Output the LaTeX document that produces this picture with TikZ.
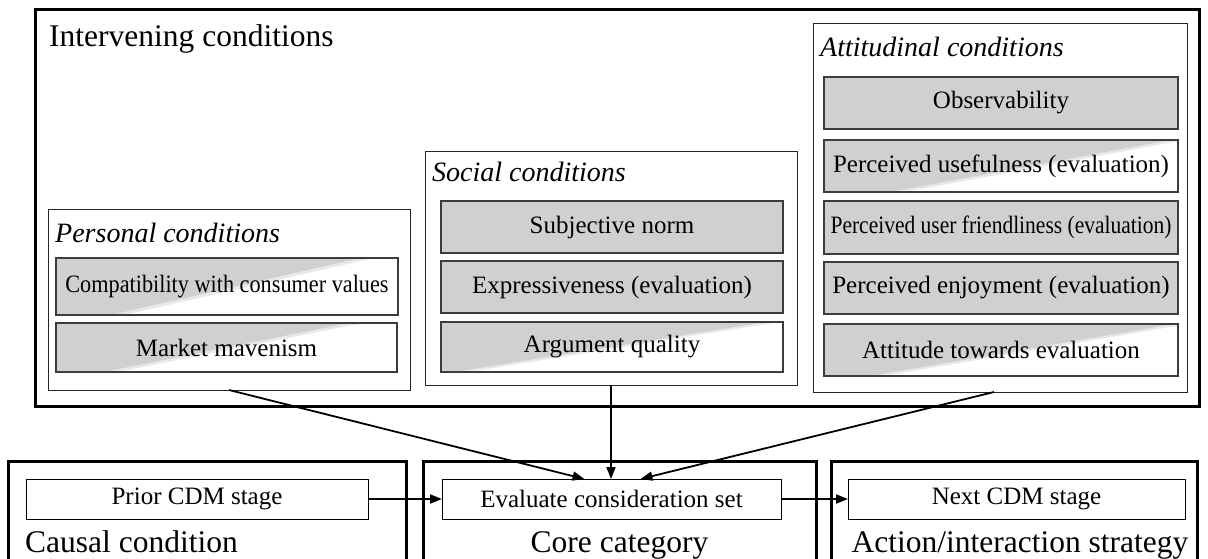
\documentclass[tikz,border=0pt]{standalone}
\usepackage{fontspec}
\usepackage{graphicx}
\setmainfont{Liberation Serif}
\usetikzlibrary{calc,arrows.meta}

\definecolor{cellgray}{RGB}{208,208,208}
\definecolor{softgray}{RGB}{232,232,232}
\definecolor{edgegray}{RGB}{60,60,60}

\newcommand\itemfont{\fontsize{25}{30}\selectfont}
\newcommand\headfont{\fontsize{28}{33}\selectfont\itshape}
\newcommand\bigfont{\fontsize{31.5}{37}\selectfont}

\tikzset{
  frame/.style={draw=black, line width=3pt, inner sep=0pt, outer sep=0pt},
  group/.style={draw=black!85, line width=1pt, fill=white, inner sep=0pt, outer sep=0pt},
  cell/.style={draw=edgegray, line width=1.2pt, inner sep=0pt, outer sep=0pt, font=\itemfont},
  fullcell/.style={cell, fill=cellgray},
  partcell/.style 2 args={cell, path picture={
    \fill[cellgray] (path picture bounding box.south west) rectangle (path picture bounding box.north east);
    \fill[softgray] ($(path picture bounding box.south west)!#1!(path picture bounding box.south east)$)
      -- (path picture bounding box.south east) -- (path picture bounding box.north east)
      -- ($(path picture bounding box.north west)!#2!(path picture bounding box.north east)$) -- cycle;
    \fill[white] ($(path picture bounding box.south west)!#1!(path picture bounding box.south east)+(14,0)$)
      -- (path picture bounding box.south east) -- (path picture bounding box.north east)
      -- ($(path picture bounding box.north west)!#2!(path picture bounding box.north east)+(14,0)$) -- cycle;
  }},
  stagebox/.style={draw=black, line width=1pt, fill=white, inner sep=0pt, outer sep=0pt, font=\itemfont},
  heading/.style={anchor=base west, inner sep=0pt, font=\headfont},
  biglabel/.style={inner sep=0pt, font=\bigfont},
  flow/.style={line width=1.8pt, -{Triangle[length=12pt,width=9pt]}},
}

\begin{document}
\begin{tikzpicture}[x=1pt,y=-1pt]
\useasboundingbox (0,0) rectangle (1208,559);
\clip (0,0) rectangle (1208,559);
\fill[white] (0,0) rectangle (1208,559);

% intervening conditions frame
\node[frame, minimum width=1164, minimum height=396, anchor=north west] (intervening) at (35,10) {};
\node[biglabel, anchor=base west] (intlabel) at (49,47) {Intervening conditions};

% personal conditions
\node[group, minimum width=362, minimum height=181, anchor=north west] (personal) at (48,209) {};
\node[heading] (personalhead) at (55,242) {Personal conditions};
\node[partcell={0.16}{0.89}, minimum width=342, minimum height=57, anchor=north west] (compat) at (56,258)
  {\scalebox{0.89}[1]{Compatibility with consumer values}};
\node[partcell={0.14}{0.86}, minimum width=341, minimum height=49, anchor=north west] (maven) at (56,323)
  {Market mavenism};

% social conditions
\node[group, minimum width=372, minimum height=233, anchor=north west] (social) at (425,152) {};
\node[heading] (socialhead) at (432,182) {Social conditions};
\node[fullcell, minimum width=342, minimum height=52, anchor=north west] (norm) at (441,201) {Subjective norm};
\node[fullcell, minimum width=342, minimum height=52, anchor=north west] (express) at (441,261) {Expressiveness (evaluation)};
\node[partcell={0.04}{0.95}, minimum width=342, minimum height=50, anchor=north west] (argument) at (441,322) {Argument quality};

% attitudinal conditions
\node[group, minimum width=374, minimum height=368, anchor=north west] (attitudinal) at (813,24) {};
\node[heading] (attitudinalhead) at (820,57) {Attitudinal conditions};
\node[fullcell, minimum width=354, minimum height=52, anchor=north west] (observe) at (824,77) {Observability};
\node[partcell={0.19}{0.98}, minimum width=354, minimum height=52, anchor=north west] (useful) at (824,140)
  {Perceived usefulness (evaluation)};
\node[fullcell, minimum width=354, minimum height=53, anchor=north west] (friendly) at (824,201)
  {\scalebox{0.86}[1]{Perceived user friendliness (evaluation)}};
\node[fullcell, minimum width=354, minimum height=52, anchor=north west] (enjoy) at (824,262)
  {Perceived enjoyment (evaluation)};
\node[partcell={0.13}{0.99}, minimum width=354, minimum height=52, anchor=north west] (attitude) at (824,324)
  {Attitude towards evaluation};

% bottom row of categories
\node[frame, minimum width=398, minimum height=130, anchor=north west] (causal) at (8,461) {};
\node[frame, minimum width=393, minimum height=130, anchor=north west] (core) at (423,461) {};
\node[frame, minimum width=366, minimum height=130, anchor=north west] (action) at (831,461) {};

\node[stagebox, minimum width=342, minimum height=40, anchor=north west] (prior) at (26,479) {Prior CDM stage};
\node[stagebox, minimum width=339, minimum height=40, anchor=north west] (evaluate) at (442,479) {Evaluate consideration set};
\node[stagebox, minimum width=337, minimum height=40, anchor=north west] (next) at (848,479) {Next CDM stage};

\node[biglabel, anchor=base west] (causallabel) at (25,552) {Causal condition};
\node[biglabel, anchor=base] (corelabel) at (619.5,552) {Core category};
\node[biglabel, anchor=base] (actionlabel) at (1020,552) {Action/interaction strategy};

% influences on the core category
\draw[flow] (personal.south) -- ($(evaluate.north)+(-27,0)$);
\draw[flow] (social.south) -- (social.south |- evaluate.north);
\draw[flow] ($(attitudinal.south)+(-6,0)$) -- ($(evaluate.north)+(29,0)$);
\draw[flow] (prior.east) -- (evaluate.west);
\draw[flow] (evaluate.east) -- (next.west);
\end{tikzpicture}
\end{document}
